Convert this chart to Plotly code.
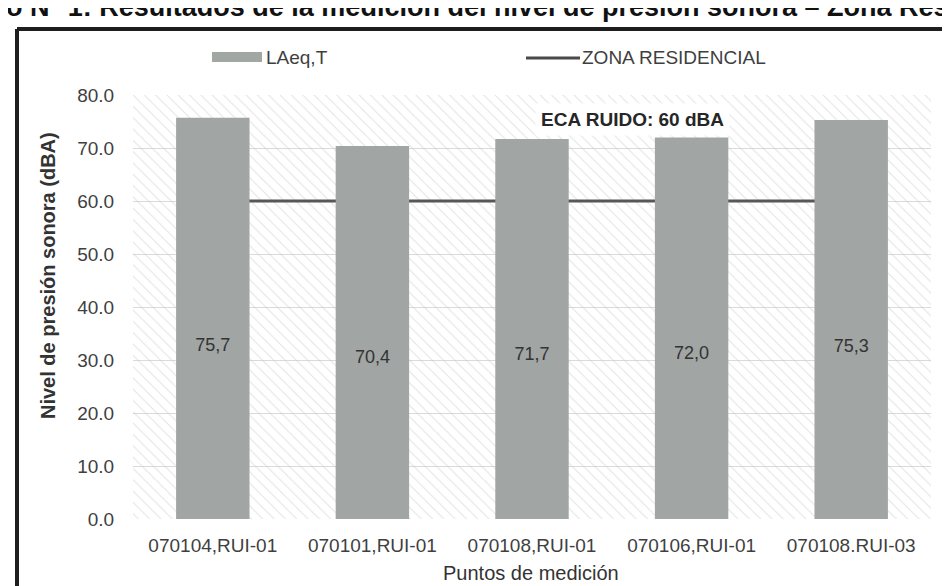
import plotly.graph_objects as go

# ---- data ----
categories = ["070104,RUI-01", "070101,RUI-01", "070108,RUI-01", "070106,RUI-01", "070108.RUI-03"]
laeq = [75.7, 70.4, 71.7, 72.0, 75.3]
laeq_labels = ["75,7", "70,4", "71,7", "72,0", "75,3"]
zona_residencial = [60, 60, 60, 60, 60]
y_ticks = [0, 10, 20, 30, 40, 50, 60, 70, 80]
y_tick_text = ["0.0", "10.0", "20.0", "30.0", "40.0", "50.0", "60.0", "70.0", "80.0"]
y_max = 80

W, H = 950, 586
L, R, T, B = 125, 923, 87, 511  # plot area in px


def px(x):
    return (x - L) / (R - L)


def py(y):
    return (B - y) / (B - T)


FONT = "Arial, 'Liberation Sans', sans-serif"
TXT = "#3f3f3f"

fig = go.Figure()

# hatched plot background (drawn on main subplot, beneath everything)
fig.add_trace(go.Bar(
    x=categories, y=[y_max] * len(categories), width=[1] * len(categories),
    marker=dict(color="rgba(0,0,0,0)", line=dict(width=0),
                pattern=dict(shape="\\", fgcolor="#c4c4c4", bgcolor="rgba(0,0,0,0)",
                             size=8, solidity=0.12)),
    hoverinfo="skip", showlegend=False, xaxis="x", yaxis="y"))

# ZONA RESIDENCIAL line (beneath the bars)
fig.add_trace(go.Scatter(
    x=categories, y=zona_residencial, mode="lines",
    line=dict(color="#575757", width=3), name="ZONA RESIDENCIAL",
    showlegend=False, xaxis="x", yaxis="y"))

# LAeq,T bars on overlaid axes (drawn above the line)
fig.add_trace(go.Bar(
    x=categories, y=laeq, name="LAeq,T",
    marker=dict(color="#a1a5a3", line=dict(width=0)),
    showlegend=False, xaxis="x2", yaxis="y2"))

# value labels inside bars
fig.add_trace(go.Scatter(
    x=categories, y=[v * 0.43 for v in laeq], mode="text", text=laeq_labels,
    textfont=dict(family=FONT, size=18, color="#333333"),
    hoverinfo="skip", showlegend=False, xaxis="x2", yaxis="y2"))

shapes = []
annotations = []

# custom legend
shapes.append(dict(type="rect", xref="paper", yref="paper",
                   x0=px(204), x1=px(254), y0=py(54), y1=py(44),
                   fillcolor="#a1a8a4", line=dict(width=0)))
annotations.append(dict(xref="paper", yref="paper", x=px(256), y=py(49),
                        xanchor="left", yanchor="middle", showarrow=False,
                        text="LAeq,T", font=dict(family=FONT, size=19, color=TXT)))
shapes.append(dict(type="line", xref="paper", yref="paper",
                   x0=px(518), x1=px(572), y0=py(50), y1=py(50),
                   line=dict(color="#4a4a4a", width=3)))
annotations.append(dict(xref="paper", yref="paper", x=px(572), y=py(49),
                        xanchor="left", yanchor="middle", showarrow=False,
                        text="ZONA RESIDENCIAL", font=dict(family=FONT, size=19, color=TXT)))

# ECA label
annotations.append(dict(xref="paper", yref="paper", x=px(624), y=py(111),
                        xanchor="center", yanchor="middle", showarrow=False,
                        text="<b>ECA RUIDO: 60 dBA</b>", bgcolor="white", borderpad=5,
                        font=dict(family=FONT, size=19, color="#262626")))

# y axis title
annotations.append(dict(xref="paper", yref="paper", x=px(40), y=py(268),
                        xanchor="center", yanchor="middle", showarrow=False, textangle=-90,
                        text="<b>Nivel de presión sonora (dBA)</b>",
                        font=dict(family=FONT, size=20, color="#333333")))

# x axis title
annotations.append(dict(xref="paper", yref="paper", x=px(523), y=py(565),
                        xanchor="center", yanchor="middle", showarrow=False,
                        text="Puntos de medición",
                        font=dict(family=FONT, size=20, color="#333333")))

# cropped page title
annotations.append(dict(xref="paper", yref="paper", x=px(-4), y=py(16),
                        xanchor="left", yanchor="bottom", showarrow=False,
                        text="<b>o N° 1: Resultados de la medición del nivel de presión sonora – Zona Residencial</b>",
                        font=dict(family=FONT, size=27, color="#111111")))

# chart border
for (x0, y0, x1, y1, c, w) in [
    (9, 21, 946, 21, "#1e1e1e", 4),
    (9, 21, 9, 586, "#1e1e1e", 4),
    (946, 21, 946, 586, "#1e1e1e", 3),
    (9, 584, 946, 584, "#7a7a7a", 2),
]:
    shapes.append(dict(type="line", xref="paper", yref="paper",
                       x0=px(x0), x1=px(x1), y0=py(y0), y1=py(y1),
                       line=dict(color=c, width=w)))

fig.update_layout(
    width=W, height=H,
    margin=dict(l=L, r=W - R, t=T, b=H - B),
    paper_bgcolor="white", plot_bgcolor="white",
    bargap=0.54,
    showlegend=False,
    shapes=shapes, annotations=annotations,
    xaxis=dict(type="category", range=[-0.5, len(categories) - 0.5],
               showgrid=False, showline=False, zeroline=False,
               ticks="outside", ticklen=9, tickcolor="rgba(0,0,0,0)",
               tickfont=dict(family=FONT, size=19, color=TXT)),
    yaxis=dict(range=[0, y_max], tickvals=y_ticks, ticktext=y_tick_text,
               showgrid=True, gridcolor="#dadada", gridwidth=1,
               zeroline=False, showline=False,
               ticks="outside", ticklen=14, tickcolor="rgba(0,0,0,0)",
               tickfont=dict(family=FONT, size=19, color=TXT)),
    xaxis2=dict(type="category", overlaying="x", range=[-0.5, len(categories) - 0.5],
                visible=False),
    yaxis2=dict(overlaying="y", range=[0, y_max], visible=False),
)

fig.write_html("out.html")
